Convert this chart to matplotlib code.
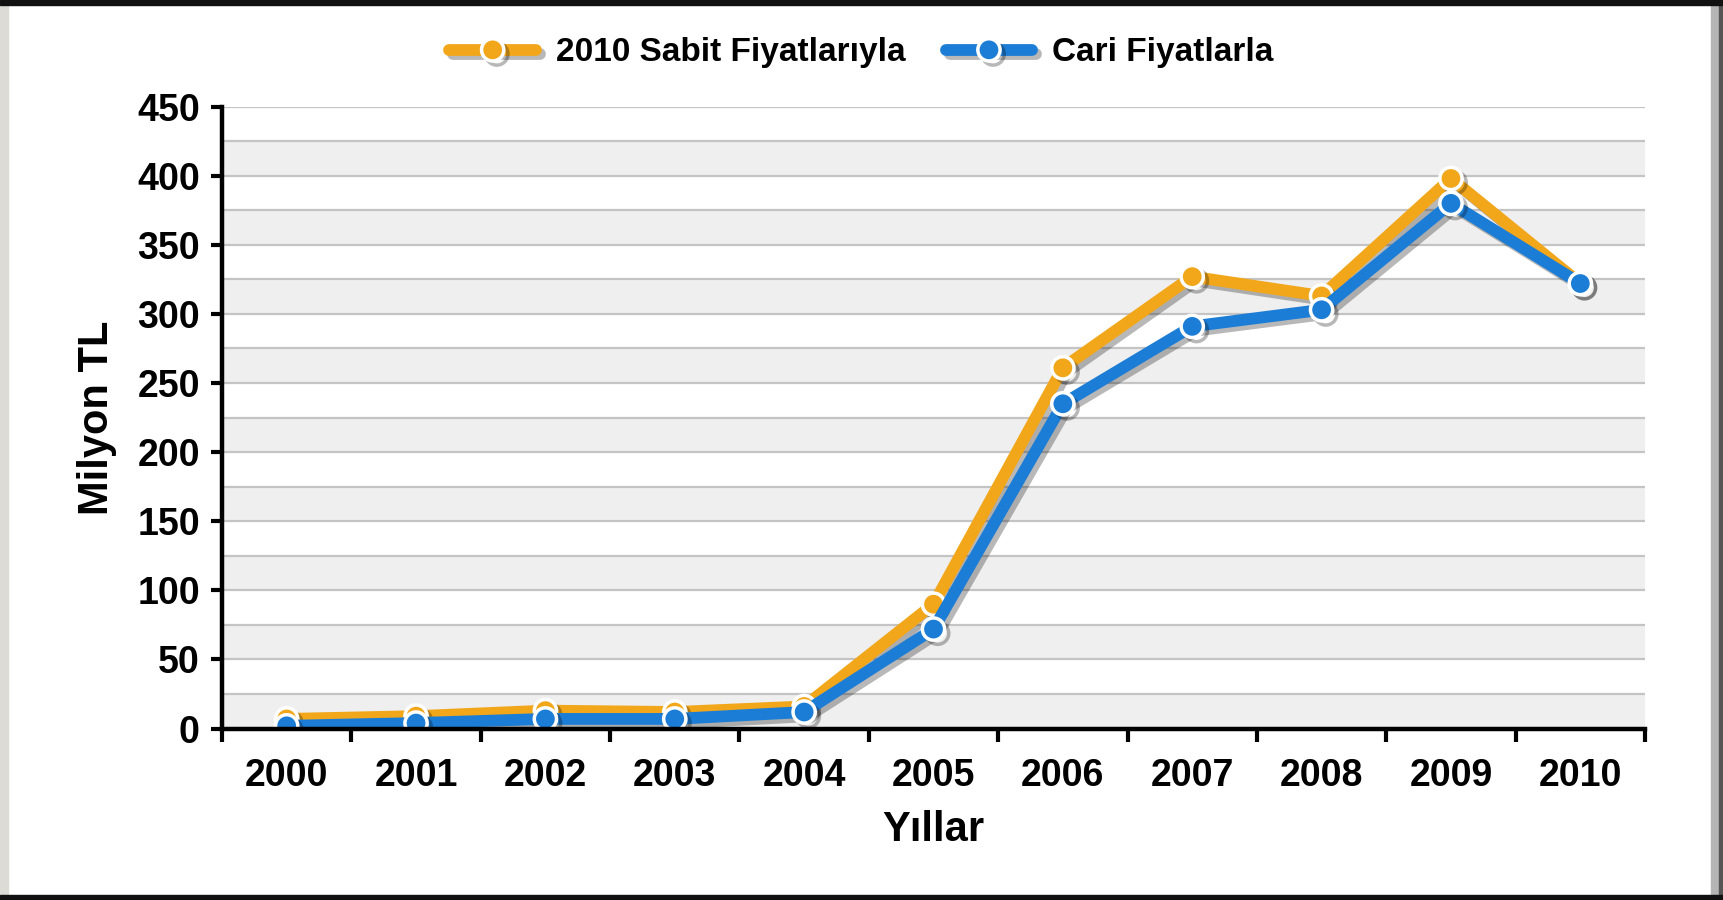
import matplotlib
matplotlib.use("Agg")
import matplotlib.pyplot as plt
import matplotlib.patheffects as pe
from matplotlib.patches import Rectangle
import numpy as np

years = ["2000", "2001", "2002", "2003", "2004", "2005", "2006", "2007", "2008", "2009", "2010"]
sabit = [7, 9, 13, 12, 16, 90, 261, 327, 313, 398, 322]
cari = [2, 4, 7, 7, 12, 72, 235, 291, 303, 380, 322]
yticks = [0, 50, 100, 150, 200, 250, 300, 350, 400, 450]

label_sabit = "2010 Sabit Fiyatlarıyla"
label_cari = "Cari Fiyatlarla"
xlabel = "Yıllar"
ylabel = "Milyon TL"

orange = "#F2A71B"
blue = "#1C7DD6"

plt.rcParams['font.family'] = ['Liberation Sans', 'DejaVu Sans']
plt.rcParams['font.weight'] = 'bold'

fig = plt.figure(figsize=(17.23, 9.0), dpi=100)
fig.patch.set_facecolor("white")

# frame decorations
fig.patches.append(Rectangle((0, 0), 8/1723, 1, transform=fig.transFigure, color="#dddbd5", zorder=0))
fig.patches.append(Rectangle((1 - 12/1723, 0), 12/1723, 1, transform=fig.transFigure, color="#b5b5b5", zorder=0))
fig.patches.append(Rectangle((1 - 4/1723, 0), 4/1723, 1, transform=fig.transFigure, color="#555555", zorder=0))
fig.patches.append(Rectangle((0, 1 - 5/900), 1, 5/900, transform=fig.transFigure, color="#111111", zorder=1))
fig.patches.append(Rectangle((0, 0), 1, 5/900, transform=fig.transFigure, color="#111111", zorder=1))

left, right = 222/1723, 1645/1723
bottom, top = 1 - 728.6/900, 1 - 106.6/900
ax = fig.add_axes([left, bottom, right - left, top - bottom])

x = np.arange(len(years))
ax.set_xlim(-0.5, len(years) - 0.5)
ax.set_ylim(0, 450)

# alternating bands and gridlines
for lo in range(0, 450, 50):
    ax.axhspan(lo, lo + 25, color="#efefef", zorder=0, lw=0)
for g in range(25, 451, 25):
    ax.axhline(g, color="#c4c4c4", lw=1.6, zorder=1)

shadow = [pe.SimpleLineShadow(offset=(3, -3), shadow_color="black", alpha=0.28), pe.Normal()]

ax.plot(x, sabit, color=orange, lw=8.5, marker="o", ms=16, mfc=orange, mec="white", mew=2.5,
        solid_capstyle="round", solid_joinstyle="round", zorder=3, path_effects=shadow, label=label_sabit)
ax.plot(x, cari, color=blue, lw=8.5, marker="o", ms=16, mfc=blue, mec="white", mew=2.5,
        solid_capstyle="round", solid_joinstyle="round", zorder=4, path_effects=shadow, label=label_cari)

for s in ["top", "right"]:
    ax.spines[s].set_visible(False)
for s in ["left", "bottom"]:
    ax.spines[s].set_linewidth(3.2)
    ax.spines[s].set_color("black")
    ax.spines[s].set_zorder(5)

ax.set_yticks(yticks)
ax.set_yticklabels([str(v) for v in yticks])
ax.tick_params(axis="y", direction="out", length=8, width=3, pad=8, labelsize=27)

ax.set_xticks(x)
ax.set_xticklabels(years)
ax.set_xticks(np.arange(-0.5, len(years), 1.0), minor=True)
ax.tick_params(axis="x", which="major", length=0, pad=21, labelsize=27)
ax.tick_params(axis="x", which="minor", direction="out", length=9, width=3)
for lab in ax.get_xticklabels() + ax.get_yticklabels():
    lab.set_fontweight("bold")

fig.text(97/1723, (bottom + top) / 2, ylabel, rotation=90, ha="center", va="center",
         fontsize=30, fontweight="bold")
fig.text((left + right) / 2, 1 - 830/900, xlabel, ha="center", va="center",
         fontsize=30, fontweight="bold")

leg = fig.legend(loc="center", bbox_to_anchor=(0.5, 1 - 53/900), ncol=2, frameon=False,
                 handlelength=2.6, columnspacing=1.2, handletextpad=0.6,
                 prop={"weight": "bold", "size": 24})

fig.savefig("out.png", dpi=100)
